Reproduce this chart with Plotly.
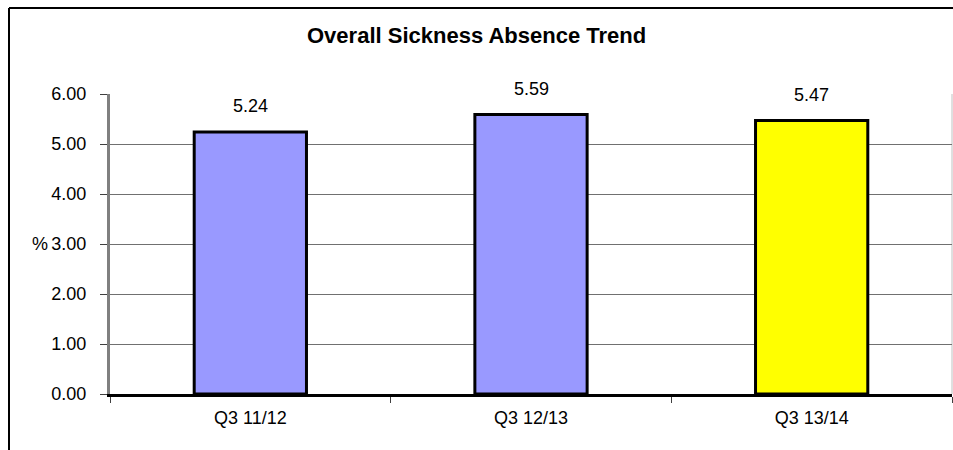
import plotly.graph_objects as go

categories = ["Q3 11/12", "Q3 12/13", "Q3 13/14"]
values = [5.24, 5.59, 5.47]
colors = ["#9999FF", "#9999FF", "#FFFF00"]
labels = ["5.24", "5.59", "5.47"]
title = "Overall Sickness Absence Trend"

W, H = 953, 450
L, R, T, B = 110, 1, 94, 56
pw, ph = W - L - R, H - T - B

def px_x(x):
    return (x - L) / pw

def px_y(y):
    return 1 + (T - y) / ph

font_family = "Liberation Sans, Arial, sans-serif"

fig = go.Figure()
fig.add_trace(go.Bar(
    x=categories, y=values,
    marker=dict(color=colors, line=dict(color="black", width=3)),
    width=0.4, hoverinfo="skip",
))

annotations = []
for c, v, t in zip(categories, values, labels):
    annotations.append(dict(x=c, y=v, xref="x", yref="y", text=t, showarrow=False,
                            yanchor="middle", yshift=26,
                            font=dict(size=18, color="black", family=font_family)))
annotations.append(dict(x=px_x(50), y=3, xref="paper", yref="y", text="%", showarrow=False,
                        xanchor="right", yanchor="middle",
                        font=dict(size=18, color="black", family=font_family)))
annotations.append(dict(x=px_x(476), y=px_y(36), xref="paper", yref="paper", text="<b>" + title + "</b>",
                        showarrow=False, xanchor="center", yanchor="middle",
                        font=dict(size=22, color="black", family=font_family)))
fig.update_layout(annotations=annotations)

shapes = [
    dict(type="line", xref="paper", yref="paper", x0=px_x(9), x1=px_x(9), y0=px_y(8), y1=px_y(H + 5),
         line=dict(color="black", width=2)),
    dict(type="line", xref="paper", yref="paper", x0=px_x(9), x1=px_x(W + 5), y0=px_y(8), y1=px_y(8),
         line=dict(color="black", width=2)),
    dict(type="line", xref="paper", yref="paper", x0=1, x1=1, y0=0, y1=1,
         line=dict(color="#c0c0c0", width=1), layer="below"),
]
fig.update_layout(shapes=shapes)

fig.update_layout(
    width=W, height=H,
    margin=dict(l=L, r=R, t=T, b=B),
    paper_bgcolor="white", plot_bgcolor="white",
    showlegend=False,
    font=dict(family=font_family, color="black", size=18),
)
fig.update_xaxes(
    type="category", showgrid=False,
    showline=True, linecolor="black", linewidth=3,
    ticks="outside", tickson="boundaries", ticklen=6, tickcolor="#404040", tickwidth=1,
    ticklabelstandoff=5,
    tickfont=dict(size=18, family=font_family, color="black"),
)
fig.update_yaxes(
    range=[0, 6], dtick=1, tickformat=".2f",
    showgrid=True, gridcolor="#707070", gridwidth=1,
    showline=True, linecolor="#808080", linewidth=3,
    ticks="outside", ticklen=7, tickcolor="#404040", tickwidth=1,
    ticklabelstandoff=10,
    tickfont=dict(size=18, family=font_family, color="black"),
    zeroline=False,
)

fig.write_html("out.html", config={"displayModeBar": False},
               post_script="document.body.style.margin='0';document.body.style.overflow='hidden';")
